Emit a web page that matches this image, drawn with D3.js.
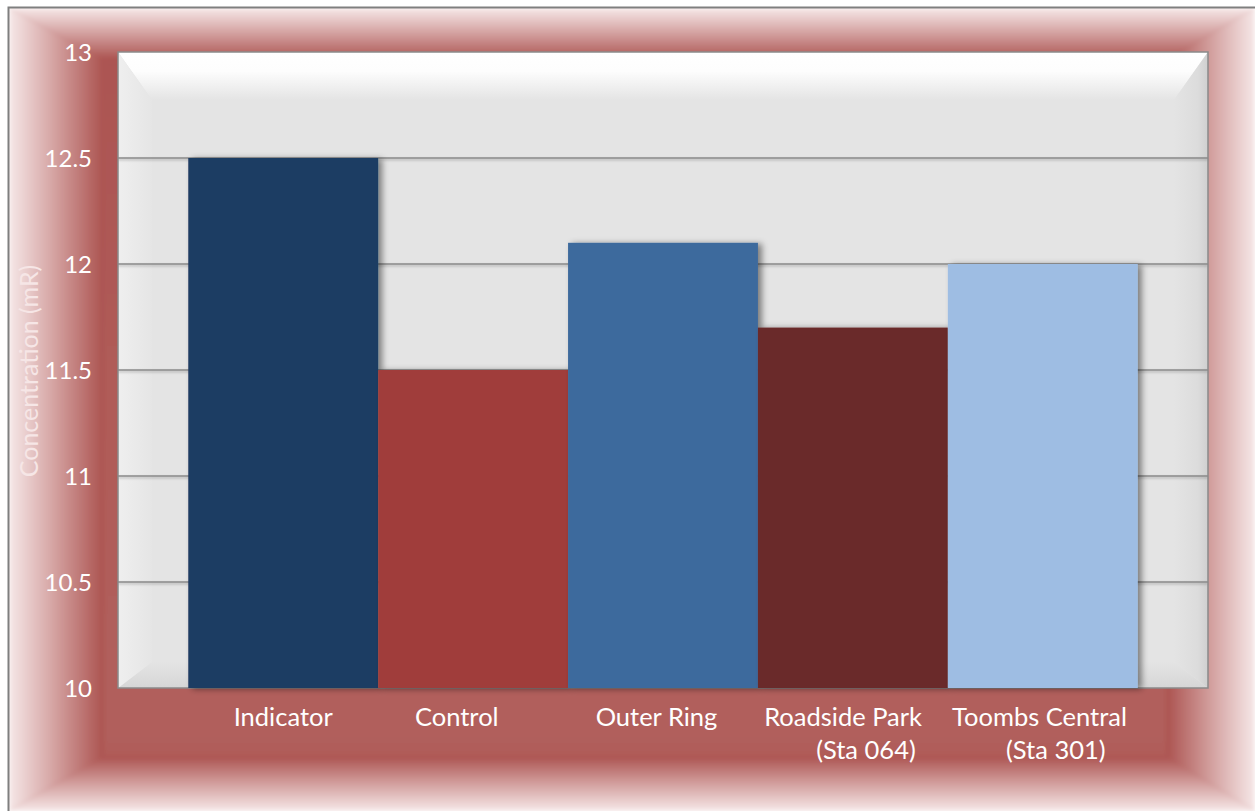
<!DOCTYPE html>
<html>
<head>
<meta charset="utf-8">
<script src="https://cdn.jsdelivr.net/npm/d3@7"></script>
<style>
  html, body { margin: 0; padding: 0; background: #ffffff; }
  svg { display: block; }
  text { font-family: Lato, "Open Sans", sans-serif; }
</style>
</head>
<body>
<svg id="chart" width="1255" height="811"></svg>
<script>
// Station readings (mR)
const categories = ["Indicator", "Control", "Outer Ring", "Roadside Park", "Toombs Central"];
// category label lines as typed in the sheet (padding spaces included)
const labelLines = [
  ["Indicator"],
  ["Control     "],
  ["Outer Ring  "],
  ["Roadside Park   ", "    (Sta 064)"],
  ["Toombs Central ", "    (Sta 301)"]
];
const values = [12.5, 11.5, 12.1, 11.7, 12.0];
const barColors = ["#1f3c63", "#a03d3b", "#3e6a9d", "#6a2a29", "#9ebde3"];
const yTicks = [10, 10.5, 11, 11.5, 12, 12.5, 13];
const yTitle = "Concentration (mR)";

const W = 1255, H = 811;
const plot = { left: 118, top: 52, right: 1208, bottom: 688 };

const svg = d3.select("#chart");
const defs = svg.append("defs");

function linGrad(id, x1, y1, x2, y2, stops) {
  const g = defs.append("linearGradient").attr("id", id)
    .attr("x1", x1).attr("y1", y1).attr("x2", x2).attr("y2", y2);
  stops.forEach(s => g.append("stop").attr("offset", s[0]).attr("stop-color", s[1]));
}

// Frame bevel gradients: pale edge fading into red
const frameStops = [[0, "#f6e8e8"], [0.45, "#d6a6a5"], [1, "#ab524f"]];
linGrad("fL", 0, 0, 1, 0, frameStops);
linGrad("fR", 1, 0, 0, 0, frameStops);
linGrad("fT", 0, 0, 0, 1, frameStops);
linGrad("fB", 0, 1, 0, 0, frameStops);
linGrad("center", 0, 0, 0, 1, [[0, "#ab5451"], [0.5, "#b05c59"], [0.9, "#b15f5c"], [1, "#ad5653"]]);

// Plot-area bevel gradients
linGrad("pT", 0, 0, 0, 1, [[0, "#ffffff"], [0.4, "#fdfdfd"], [1, "#e4e4e4"]]);
linGrad("pL", 0, 0, 1, 0, [[0, "#efefef"], [1, "#e5e5e5"]]);
linGrad("pR", 1, 0, 0, 0, [[0, "#cfcfcf"], [0.3, "#dcdcdc"], [1, "#e4e4e4"]]);
linGrad("pB", 0, 1, 0, 0, [[0, "#d6d6d6"], [1, "#e4e4e4"]]);

const shadow = defs.append("filter").attr("id", "barShadow")
  .attr("x", "-10%").attr("y", "-10%").attr("width", "130%").attr("height", "120%");
shadow.append("feDropShadow").attr("dx", 4).attr("dy", 1).attr("stdDeviation", 3)
  .attr("flood-color", "#000").attr("flood-opacity", 0.45);

const gridShadow = defs.append("filter").attr("id", "gridShadow")
  .attr("x", "-5%").attr("y", "-200%").attr("width", "110%").attr("height", "500%");
gridShadow.append("feDropShadow").attr("dx", 0).attr("dy", 1.5).attr("stdDeviation", 1)
  .attr("flood-color", "#000").attr("flood-opacity", 0.25);

// soft blur for the frame seams
const soft = defs.append("filter").attr("id", "soft")
  .attr("x", "0").attr("y", "0").attr("width", "100%").attr("height", "100%");
soft.append("feGaussianBlur").attr("stdDeviation", 2);

// ---- chart background with bevelled frame ----
const fx0 = 9, fy0 = 8, fx1 = W, fy1 = H;
const ix0 = 104, iy0 = 60, ix1 = 1166, iy1 = 756;
const bg = svg.append("g");
const bgInner = bg.append("g").attr("filter", "url(#soft)");
bgInner.append("rect").attr("x", fx0).attr("y", fy0).attr("width", fx1 - fx0).attr("height", fy1 - fy0)
  .attr("fill", "url(#center)");
const poly = pts => pts.map(p => p.join(",")).join(" ");
bgInner.append("polygon").attr("points", poly([[fx0, fy0], [fx1, fy0], [ix1, iy0], [ix0, iy0]])).attr("fill", "url(#fT)");
bgInner.append("polygon").attr("points", poly([[fx0, fy1], [fx1, fy1], [ix1, iy1], [ix0, iy1]])).attr("fill", "url(#fB)");
bgInner.append("polygon").attr("points", poly([[fx0, fy0], [ix0, iy0], [ix0, iy1], [fx0, fy1]])).attr("fill", "url(#fL)");
bgInner.append("polygon").attr("points", poly([[fx1, fy0], [ix1, iy0], [ix1, iy1], [fx1, fy1]])).attr("fill", "url(#fR)");
// outer border
bg.append("path").attr("d", `M${fx0 - 0.5},${H} V${fy0 - 0.5} H${W}`)
  .attr("fill", "none").attr("stroke", "#7f7f7f").attr("stroke-width", 2);

// ---- plot area with bevel ----
const pa = svg.append("g");
const pw = plot.right - plot.left, ph = plot.bottom - plot.top;
const bv = 34, bvTop = 48, bvBottom = 26;
pa.append("rect").attr("x", plot.left).attr("y", plot.top).attr("width", pw).attr("height", ph)
  .attr("fill", "#e4e4e4");
pa.append("polygon").attr("points", poly([[plot.left, plot.top], [plot.right, plot.top], [plot.right - bv, plot.top + bvTop], [plot.left + bv, plot.top + bvTop]])).attr("fill", "url(#pT)");
pa.append("polygon").attr("points", poly([[plot.left, plot.bottom], [plot.right, plot.bottom], [plot.right - bv, plot.bottom - bvBottom], [plot.left + bv, plot.bottom - bvBottom]])).attr("fill", "url(#pB)");
pa.append("polygon").attr("points", poly([[plot.left, plot.top], [plot.left + bv, plot.top + bvTop], [plot.left + bv, plot.bottom - bvBottom], [plot.left, plot.bottom]])).attr("fill", "url(#pL)");
pa.append("polygon").attr("points", poly([[plot.right, plot.top], [plot.right - bv, plot.top + bvTop], [plot.right - bv, plot.bottom - bvBottom], [plot.right, plot.bottom]])).attr("fill", "url(#pR)");

// ---- scales ----
const x = d3.scaleBand().domain(categories).range([plot.left, plot.right])
  .paddingInner(0).paddingOuter(0.37);
const y = d3.scaleLinear().domain([10, 13]).range([plot.bottom, plot.top]);

// gridlines
svg.append("g").attr("filter", "url(#gridShadow)")
  .selectAll("line").data(yTicks.filter(t => t > 10 && t < 13)).join("line")
  .attr("x1", plot.left).attr("x2", plot.right)
  .attr("y1", d => y(d)).attr("y2", d => y(d))
  .attr("stroke", "#8a8a8a").attr("stroke-width", 1.5);

// plot border
svg.append("rect").attr("x", plot.left).attr("y", plot.top).attr("width", pw).attr("height", ph)
  .attr("fill", "none").attr("stroke", "#8a8a8a").attr("stroke-width", 1.5);

// bars
const data = categories.map((c, i) => ({ c, v: values[i], color: barColors[i], lines: labelLines[i] }));
svg.append("g").selectAll("rect").data(data).join("rect")
  .attr("x", d => x(d.c))
  .attr("y", d => y(d.v))
  .attr("width", x.bandwidth())
  .attr("height", d => y(10) - y(d.v))
  .attr("fill", d => d.color)
  .attr("filter", "url(#barShadow)");

// y axis labels
const yAxis = d3.axisLeft(y).tickValues(yTicks).tickSize(0).tickPadding(0)
  .tickFormat(d3.format("~g"));
const yg = svg.append("g").attr("transform", `translate(${92},0)`).call(yAxis);
yg.select(".domain").remove();
yg.selectAll("text").attr("fill", "#ffffff").attr("font-size", 24)
  .attr("font-family", "Lato, 'Open Sans', sans-serif").attr("dy", "0.35em");

// x axis labels
const xg = svg.append("g");
data.forEach(d => {
  const cx = x(d.c) + x.bandwidth() / 2;
  const t = xg.append("text").attr("x", cx).attr("y", 726)
    .attr("text-anchor", "middle").attr("fill", "#ffffff").attr("font-size", 25.5)
    .style("white-space", "pre").attr("xml:space", "preserve");
  d.lines.forEach((ln, k) => {
    t.append("tspan").attr("x", cx).attr("dy", k === 0 ? 0 : 33).text(ln);
  });
});

// y axis title
svg.append("text")
  .attr("transform", `translate(38,${(plot.top + plot.bottom) / 2 + 1}) rotate(-90)`)
  .attr("text-anchor", "middle").attr("fill", "#f6e6e6").attr("font-size", 25)
  .text(yTitle);
</script>
</body>
</html>
